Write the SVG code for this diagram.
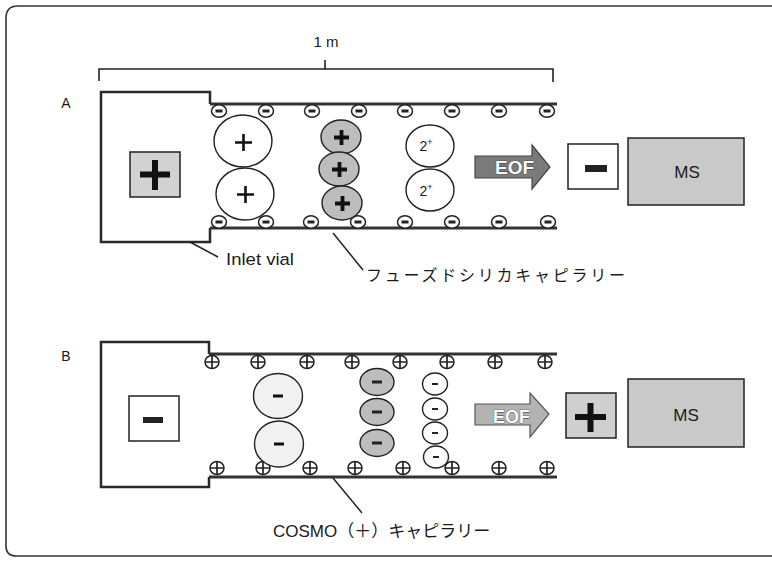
<svg xmlns="http://www.w3.org/2000/svg" xmlns:xlink="http://www.w3.org/1999/xlink" width="772" height="562" viewBox="0 0 772 562">
<style>
.lbl{font-family:"Liberation Sans","Noto Sans CJK JP",sans-serif;fill:#1a1a1a}
.jp{font-family:"Noto Sans CJK JP","Liberation Sans",sans-serif;fill:#1a1a1a}
.wall{stroke:#333;stroke-width:3;fill:none}
.vial{stroke:#2a2a2a;stroke-width:2.5;fill:#fff;stroke-linejoin:miter}
.ion{stroke:#222;stroke-width:1.4}
.eof{font-family:"Liberation Sans",sans-serif;font-weight:bold;fill:#fff;stroke:#333;stroke-width:0.7;paint-order:stroke}
.leader{stroke:#222;stroke-width:1.5;fill:none}
.box{stroke:#222;stroke-width:1.5}
</style>
<defs>
<g id="wm"><ellipse rx="7.5" ry="6.2" fill="#fff" stroke="#222" stroke-width="1.5"/><rect x="-3.5" y="-1.5" width="7" height="3" fill="#222"/></g>
<g id="wp"><ellipse rx="7" ry="6.5" fill="#fff" stroke="#222" stroke-width="1.5"/><path d="M-7 0H7M0 -6.5V6.5" stroke="#222" stroke-width="1.7"/></g>
</defs>
<rect width="772" height="562" fill="#fff"/>
<g id="frame"><path d="M772 6H18Q6 6 6 18V546Q6 556 16 556H772" fill="none" stroke="#333" stroke-width="1.6"/></g>
<g id="scale">
<path d="M99 81V69H553V82M325 69V60" fill="none" stroke="#222" stroke-width="1.6"/>
<text class="lbl" x="326" y="47" font-size="15" text-anchor="middle">1 m</text>
</g>
<text class="lbl" x="66" y="108" font-size="14" text-anchor="middle">A</text>
<text class="lbl" x="66" y="361" font-size="14" text-anchor="middle">B</text>

<!-- Panel A -->
<g id="vialA">
<path class="vial" d="M210 104V92H101V242H210V228"/>
<rect x="130" y="152" width="50" height="45" fill="#d2d2d2" class="box"/>
<path d="M140 174.5H170M155 160V190" stroke="#111" stroke-width="6"/>
</g>
<g id="capillaryA">
<path class="wall" d="M210 104H557M210 228H557"/>
<use xlink:href="#wm" x="219" y="111"/><use xlink:href="#wm" x="266" y="111"/><use xlink:href="#wm" x="312" y="111"/><use xlink:href="#wm" x="359" y="111"/><use xlink:href="#wm" x="405" y="111"/><use xlink:href="#wm" x="452" y="111"/><use xlink:href="#wm" x="499" y="111"/><use xlink:href="#wm" x="547" y="111"/>
<use xlink:href="#wm" x="219" y="222"/><use xlink:href="#wm" x="266" y="222"/><use xlink:href="#wm" x="311" y="222"/><use xlink:href="#wm" x="358" y="222"/><use xlink:href="#wm" x="405" y="222"/><use xlink:href="#wm" x="452" y="222"/><use xlink:href="#wm" x="499" y="222"/><use xlink:href="#wm" x="548" y="222"/>
</g>
<g id="cationsLargeA">
<ellipse cx="243" cy="141" rx="29" ry="26" fill="#fff" class="ion"/>
<ellipse cx="245" cy="194" rx="29" ry="26" fill="#fff" class="ion"/>
<path d="M235 142.5H252M243.5 134V151M237 194.5H254M245.5 186V203" stroke="#111" stroke-width="2.6"/>
</g>
<g id="cationsGrayA">
<ellipse cx="341" cy="137" rx="20" ry="17" fill="#bdbdbd" class="ion"/>
<ellipse cx="339" cy="169" rx="20" ry="17" fill="#bdbdbd" class="ion"/>
<ellipse cx="342" cy="203" rx="20" ry="17" fill="#bdbdbd" class="ion"/>
<path d="M334 137.5H349M341.5 130V145M332 169.5H347M339.5 162V177M335 203.5H350M342.5 196V211" stroke="#111" stroke-width="3.8"/>
</g>
<g id="dicationsA">
<ellipse cx="430" cy="146" rx="24" ry="21" fill="#fff" class="ion"/>
<ellipse cx="430" cy="190" rx="24" ry="21" fill="#fff" class="ion"/>
<text class="lbl" x="426" y="151" font-size="14" text-anchor="middle">2<tspan font-size="9" dy="-6">+</tspan></text>
<text class="lbl" x="426" y="196" font-size="14" text-anchor="middle">2<tspan font-size="9" dy="-6">+</tspan></text>
</g>
<g id="eofA">
<path d="M475 156H532V145L550 167L532 189V178H475Z" fill="#7a7a7a" stroke="#444" stroke-width="1.2"/>
<text class="eof" x="495" y="174" font-size="19" textLength="39" lengthAdjust="spacingAndGlyphs">EOF</text>
</g>
<g id="cathodeA">
<rect x="568" y="144" width="50" height="45" fill="#fff" class="box"/>
<rect x="585" y="165" width="22" height="7" fill="#222"/>
</g>
<g id="msA">
<rect x="628" y="138" width="116" height="67" fill="#c9c9c9" class="box"/>
<text class="lbl" x="687" y="178" font-size="17" text-anchor="middle">MS</text>
</g>

<!-- Panel B -->
<g id="vialB">
<path class="vial" d="M209 354V342H101V487H209V477"/>
<rect x="129" y="396" width="50" height="45" fill="#fff" class="box"/>
<rect x="143" y="417" width="20" height="6" fill="#222"/>
</g>
<g id="capillaryB">
<path class="wall" d="M209 354H557M209 477H557"/>
<use xlink:href="#wp" x="212" y="362"/><use xlink:href="#wp" x="258" y="362"/><use xlink:href="#wp" x="307" y="362"/><use xlink:href="#wp" x="352" y="362"/><use xlink:href="#wp" x="400" y="362"/><use xlink:href="#wp" x="447" y="362"/><use xlink:href="#wp" x="495" y="362"/><use xlink:href="#wp" x="545" y="362"/>
<use xlink:href="#wp" x="217" y="468"/><use xlink:href="#wp" x="263" y="468"/><use xlink:href="#wp" x="310" y="468"/><use xlink:href="#wp" x="355" y="468"/><use xlink:href="#wp" x="403" y="468"/><use xlink:href="#wp" x="452" y="468"/><use xlink:href="#wp" x="499" y="468"/><use xlink:href="#wp" x="547" y="468"/>
</g>
<g id="anionsLargeB">
<ellipse cx="278" cy="396" rx="24.5" ry="22.5" fill="#f1f1f1" class="ion"/>
<ellipse cx="279" cy="444" rx="24.5" ry="23" fill="#f1f1f1" class="ion"/>
<rect x="273" y="394.5" width="10" height="3" fill="#111"/>
<rect x="274" y="442.5" width="10" height="3" fill="#111"/>
</g>
<g id="anionsGrayB">
<ellipse cx="377" cy="382" rx="17" ry="13.5" fill="#bdbdbd" class="ion"/>
<ellipse cx="377" cy="412" rx="17" ry="13.5" fill="#bdbdbd" class="ion"/>
<ellipse cx="377" cy="443" rx="17" ry="13.5" fill="#bdbdbd" class="ion"/>
<rect x="372" y="380.5" width="10" height="3" fill="#222"/>
<rect x="372" y="410.5" width="10" height="3" fill="#222"/>
<rect x="372" y="441.5" width="10" height="3" fill="#222"/>
</g>
<g id="anionsSmallB">
<ellipse cx="435" cy="384" rx="12.5" ry="11" fill="#fff" class="ion"/>
<ellipse cx="435" cy="409" rx="12.5" ry="11" fill="#fff" class="ion"/>
<ellipse cx="435" cy="433" rx="12.5" ry="11" fill="#fff" class="ion"/>
<ellipse cx="436" cy="457" rx="12.5" ry="11" fill="#fff" class="ion"/>
<rect x="432" y="383" width="6" height="2" fill="#222"/>
<rect x="432" y="408" width="6" height="2" fill="#222"/>
<rect x="432" y="432" width="6" height="2" fill="#222"/>
<rect x="433" y="456" width="6" height="2" fill="#222"/>
</g>
<g id="eofB">
<path d="M475 404H530V393L549 414L530 437V425H475Z" fill="#b3b3b3" stroke="#555" stroke-width="1.2"/>
<text class="eof" x="493" y="423" font-size="19" textLength="37" lengthAdjust="spacingAndGlyphs">EOF</text>
</g>
<g id="anodeB">
<rect x="566" y="393" width="50" height="45" fill="#cfcfcf" class="box"/>
<path d="M575 417H606M590.5 403V432" stroke="#111" stroke-width="6"/>
</g>
<g id="msB">
<rect x="628" y="379" width="116" height="68" fill="#c9c9c9" class="box"/>
<text class="lbl" x="686" y="421" font-size="17" text-anchor="middle">MS</text>
</g>

<g id="connectors">
<path class="leader" d="M190 242L218 257"/>
<path class="leader" d="M333 233L363 270"/>
<path class="leader" d="M333 478L362 513"/>
</g>
<g id="labels">
<text class="lbl" x="226" y="265" font-size="17" textLength="68" lengthAdjust="spacingAndGlyphs">Inlet vial</text>
<text class="jp" x="366" y="281" font-size="16" textLength="259">フューズドシリカキャピラリー</text>
<text class="jp" x="273" y="537" font-size="17"><tspan font-family="Liberation Sans, sans-serif">COSMO</tspan>（＋）キャピラリー</text>
</g>
</svg>
